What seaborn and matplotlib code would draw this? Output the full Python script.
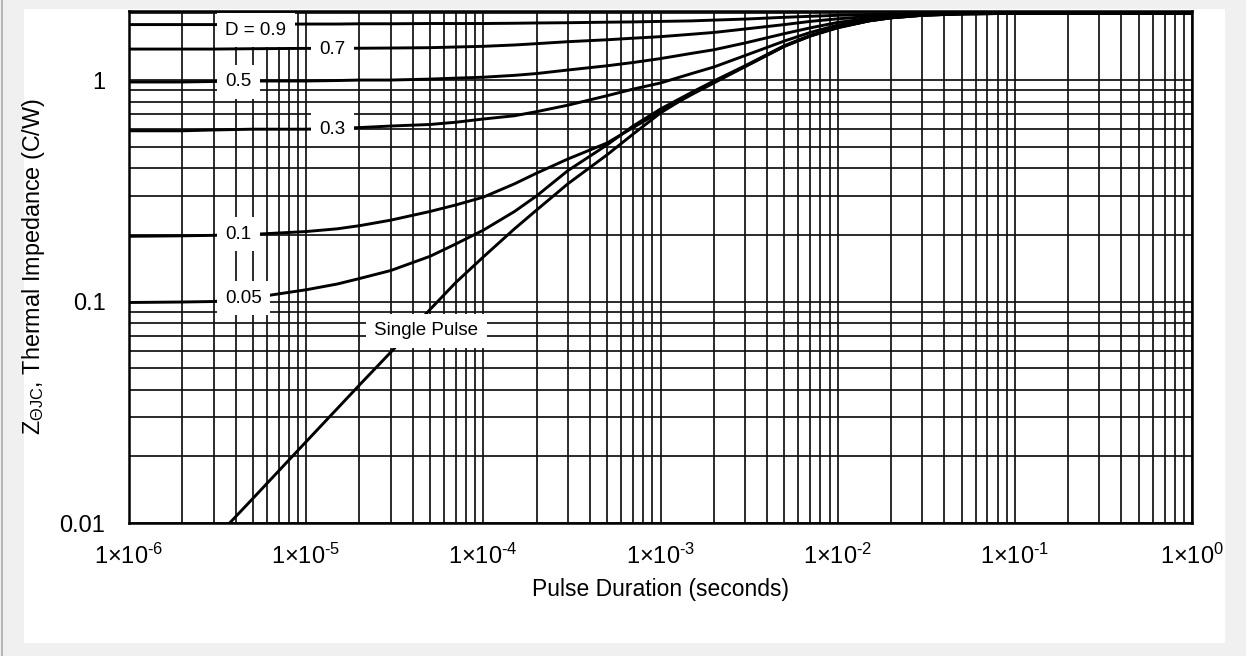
import numpy as np
import pandas as pd
import matplotlib
matplotlib.use("Agg")
import matplotlib.pyplot as plt
from matplotlib.patches import Rectangle
from matplotlib.lines import Line2D
from matplotlib.ticker import LogLocator, FixedLocator, FixedFormatter, NullFormatter
import seaborn as sns

# ---------------- data ----------------
t_common = [1e-6, 2e-6, 3e-6, 5e-6, 1e-5, 1.5e-5, 2e-5, 3e-5, 5e-5, 7e-5,
            1e-4, 1.5e-4, 2e-4, 3e-4, 5e-4, 7e-4, 1e-3, 1.5e-3, 2e-3, 3e-3,
            5e-3, 7e-3, 1e-2, 1.5e-2, 2e-2, 3e-2, 5e-2, 1e-1, 1.0]
z_d09 = [1.78, 1.78, 1.78, 1.785, 1.79, 1.79, 1.795, 1.795, 1.80, 1.80,
         1.80, 1.805, 1.81, 1.815, 1.825, 1.83, 1.84, 1.85, 1.865, 1.885,
         1.92, 1.94, 1.96, 1.975, 1.985, 1.995, 2.0, 2.0, 2.0]
z_d07 = [1.38, 1.38, 1.38, 1.385, 1.39, 1.39, 1.392, 1.395, 1.40, 1.41,
         1.42, 1.44, 1.46, 1.49, 1.52, 1.545, 1.57, 1.61, 1.64, 1.70,
         1.78, 1.84, 1.89, 1.935, 1.96, 1.985, 2.0, 2.0, 2.0]
z_d05 = [0.98, 0.98, 0.985, 0.99, 0.99, 0.995, 1.0, 1.0, 1.01, 1.02,
         1.03, 1.05, 1.07, 1.11, 1.16, 1.20, 1.25, 1.32, 1.37, 1.47,
         1.62, 1.72, 1.82, 1.90, 1.94, 1.975, 1.995, 2.0, 2.0]
z_d03 = [0.59, 0.59, 0.595, 0.60, 0.60, 0.605, 0.61, 0.62, 0.63, 0.645,
         0.667, 0.69, 0.72, 0.77, 0.85, 0.91, 0.97, 1.07, 1.145, 1.29,
         1.50, 1.64, 1.77, 1.87, 1.92, 1.97, 1.99, 2.0, 2.0]
z_d01 = [0.197, 0.198, 0.199, 0.201, 0.207, 0.213, 0.22, 0.233, 0.255, 0.273,
         0.296, 0.34, 0.38, 0.44, 0.52, 0.61, 0.72, 0.86, 0.97, 1.15,
         1.42, 1.58, 1.73, 1.85, 1.91, 1.96, 1.99, 2.0, 2.0]
z_d005 = [0.099, 0.0995, 0.100, 0.104, 0.113, 0.12, 0.127, 0.138, 0.16, 0.182,
          0.21, 0.255, 0.30, 0.39, 0.51, 0.62, 0.74, 0.88, 0.99, 1.16,
          1.43, 1.59, 1.73, 1.85, 1.91, 1.96, 1.99, 2.0, 2.0]
t_single = [3.7e-6, 5e-6, 1e-5, 2e-5, 3e-5, 5e-5, 7e-5, 1e-4, 1.5e-4, 2e-4,
            3e-4, 5e-4, 7e-4, 1e-3, 1.5e-3, 2e-3, 3e-3, 5e-3, 7e-3, 1e-2,
            1.5e-2, 2e-2, 3e-2, 5e-2, 1e-1, 1.0]
z_single = [0.010, 0.0129, 0.0233, 0.042, 0.059, 0.092, 0.122, 0.159, 0.213, 0.259,
            0.34, 0.46, 0.57, 0.71, 0.87, 0.98, 1.15, 1.42, 1.58, 1.72,
            1.85, 1.91, 1.96, 1.99, 2.0, 2.0]

curve_names = ["D = 0.9", "0.7", "0.5", "0.3", "0.1", "0.05", "Single Pulse"]
x_ticks = [1e-6, 1e-5, 1e-4, 1e-3, 1e-2, 1e-1, 1e0]
x_tick_labels = [r"$\mathregular{1{\times}10^{\text{-}6}}$", r"$\mathregular{1{\times}10^{\text{-}5}}$",
                 r"$\mathregular{1{\times}10^{\text{-}4}}$", r"$\mathregular{1{\times}10^{\text{-}3}}$",
                 r"$\mathregular{1{\times}10^{\text{-}2}}$", r"$\mathregular{1{\times}10^{\text{-}1}}$",
                 r"$\mathregular{1{\times}10^{0}}$"]
y_ticks = [0.01, 0.1, 1]
y_tick_labels = ["0.01", "0.1", "1"]
# label anchor positions (t, Z)
label_t = [5.2e-6, 1.41e-5, 4.15e-6, 1.41e-5, 4.13e-6, 4.43e-6, 4.77e-5]
label_z = [1.68, 1.376, 0.982, 0.601, 0.201, 0.1034, 0.0738]

# ---------------- build long table ----------------
frames = []
series_vals = [z_d09, z_d07, z_d05, z_d03, z_d01, z_d005]
for name, vals in zip(curve_names[:-1], series_vals):
    frames.append(pd.DataFrame({"t": t_common, "z": vals, "curve": name}))
frames.append(pd.DataFrame({"t": t_single, "z": z_single, "curve": curve_names[-1]}))
df = pd.concat(frames, ignore_index=True)

# ---------------- style ----------------
sns.set_theme(style="white")
plt.rcParams["font.family"] = ["Liberation Sans", "DejaVu Sans"]
plt.rcParams["mathtext.fontset"] = "custom"
plt.rcParams["mathtext.rm"] = "Liberation Sans"
plt.rcParams["mathtext.it"] = "Liberation Sans:italic"
plt.rcParams["mathtext.bf"] = "Liberation Sans:bold"

W, H = 1246, 656
fig = plt.figure(figsize=(W / 100, H / 100), dpi=100, facecolor="#f0f0f0")
# white panel and left border
fig.patches.append(Rectangle((24 / W, 1 - 643 / H), (1225 - 24) / W, (643 - 9) / H,
                             transform=fig.transFigure, facecolor="white",
                             edgecolor="none", zorder=-10))
fig.lines.append(Line2D([1.5 / W, 1.5 / W], [0, 1], transform=fig.transFigure,
                        color="#aaaaaa", lw=1.2))

ax = fig.add_axes([129 / W, 1 - 523 / H, (1192 - 129) / W, (523 - 11) / H])
ax.set_facecolor("white")

sns.lineplot(data=df, x="t", y="z", hue="curve", hue_order=curve_names,
             palette=["black"] * len(curve_names), sort=True, estimator=None,
             lw=2.1, legend=False, ax=ax, zorder=3)

ax.set_xscale("log")
ax.set_yscale("log")
ax.set_xlim(1e-6, 1.0)
ax.set_ylim(0.01, 2.05)

ax.xaxis.set_major_locator(FixedLocator(x_ticks))
ax.xaxis.set_major_formatter(FixedFormatter(x_tick_labels))
ax.xaxis.set_minor_locator(LogLocator(base=10, subs=np.arange(2, 10)))
ax.xaxis.set_minor_formatter(NullFormatter())
ax.yaxis.set_major_locator(FixedLocator(y_ticks))
ax.yaxis.set_major_formatter(FixedFormatter(y_tick_labels))
ax.yaxis.set_minor_locator(LogLocator(base=10, subs=np.arange(2, 10)))
ax.yaxis.set_minor_formatter(NullFormatter())

ax.grid(True, which="both", color="#111111", lw=1.25, zorder=1)
ax.set_axisbelow(True)
ax.tick_params(axis="both", which="both", length=0, labelsize=17, colors="black")
ax.tick_params(axis="x", pad=15)
ax.tick_params(axis="y", pad=17)
for s in ax.spines.values():
    s.set_color("black")
    s.set_linewidth(1.8)

ax.set_xlabel("Pulse Duration (seconds)", fontsize=16.5, color="black")
ax.set_ylabel(r"Z$_{\mathregular{ΘJC}}$, Thermal Impedance (C/W)", fontsize=16.8, color="black")
ax.xaxis.set_label_coords(0.5, -0.108)
ax.xaxis.label.set_va("top")
ax.yaxis.set_label_coords(-0.077, 0.5)

for name, lt, lz in zip(curve_names, label_t, label_z):
    ax.text(lt, lz, name, ha="center", va="center", fontsize=13.5, color="black",
            zorder=5, bbox=dict(boxstyle="square,pad=0.45", facecolor="white",
                                edgecolor="none"))

fig.savefig("out.png", dpi=100, facecolor=fig.get_facecolor())
